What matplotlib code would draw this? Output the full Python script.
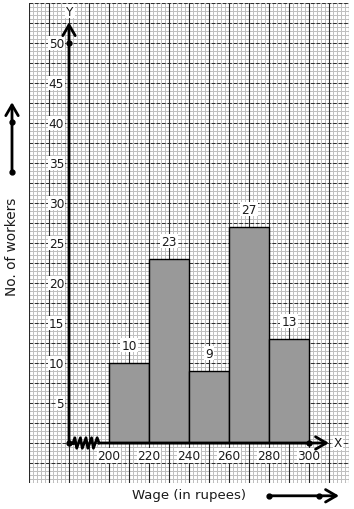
import numpy as np
import matplotlib
matplotlib.use("Agg")
import matplotlib.pyplot as plt

# ---- data ----
bin_edges = [200, 220, 240, 260, 280, 300]
workers = [10, 23, 9, 27, 13]
x_ticks = [200, 220, 240, 260, 280, 300]
y_ticks = [5, 10, 15, 20, 25, 30, 35, 40, 45, 50]
x_label = "Wage (in rupees)"
y_label = "No. of workers"

fig = plt.figure(figsize=(3.54, 5.10), dpi=100)
ax = fig.add_axes([29/354, 26/510, 320/354, 480/510])
ax.set_xlim(160, 320)
ax.set_ylim(-5, 55)
ax.axis("off")

# graph paper
for xv in np.arange(160, 320.1, 2):
    ax.axvline(xv, color="#c0c0c0", lw=0.72, zorder=0)
for yv in np.arange(-5, 55.01, 0.5):
    ax.axhline(yv, color="#c0c0c0", lw=0.72, zorder=0)
for xv in np.arange(160, 320.1, 10):
    ax.axvline(xv, color="#2a2a2a", lw=0.8, zorder=1)
for yv in np.arange(-5, 55.01, 2.5):
    ax.axhline(yv, color="#303030", lw=0.75, ls=(0, (3.5, 1.8)), zorder=1)

# bars
lefts = bin_edges[:-1]
widths = np.diff(bin_edges)
ax.bar(lefts, workers, width=widths, align="edge", color="#999999",
       edgecolor="black", lw=1.0, zorder=3)

box = dict(facecolor="white", edgecolor="none", pad=0.6)
centers = [l + w / 2 for l, w in zip(lefts, widths)]
for c, v in zip(centers, workers):
    ax.text(c, v + 2.25, str(v), ha="center", va="center", fontsize=8.7,
            color="#1a1a1a", bbox=box, zorder=4)

# axes lines
arrow = dict(arrowstyle="->,head_length=0.55,head_width=0.32", lw=2,
             color="black", mutation_scale=14, shrinkA=0, shrinkB=0)
ax.annotate("", xy=(180, 52.6), xytext=(180, 0), arrowprops=arrow, zorder=5)
ax.annotate("", xy=(310, 0), xytext=(195, 0), arrowprops=arrow, zorder=5)
ax.plot([180, 182], [0, 0], color="black", lw=2, zorder=5)
zx = np.linspace(182, 195, 15)
zy = np.array([0, 0.65, -0.65] * 5)[:15]
zy[0] = 0; zy[-1] = 0
ax.plot(zx, zy, color="black", lw=2, zorder=5)
ax.plot([180, 180, 300], [0, 50, 0], "o", color="black", ms=3.5, zorder=6)

# tick labels
for yv in y_ticks:
    ax.text(177.6, yv, str(yv), ha="right", va="center", fontsize=8.7,
            color="#1a1a1a", bbox=box, zorder=4)
for xv in x_ticks:
    ax.text(xv, -1.6, str(xv), ha="center", va="center", fontsize=8.7,
            color="#1a1a1a", bbox=box, zorder=4)
ax.text(314.5, 0, "X", ha="center", va="center", fontsize=8.7,
        color="#1a1a1a", bbox=box, zorder=4)
ax.text(180.5, 54.0, "Y", ha="center", va="center", fontsize=8.7,
        color="#1a1a1a", bbox=box, zorder=4)

# outer labels
fig.text(189/354, 1 - 496/510, x_label, ha="center", va="center",
         fontsize=9.5, color="#1a1a1a")
fig.text(12/354, 1 - 247/510, y_label, ha="center", va="center",
         fontsize=9.8, color="#1a1a1a", rotation=90)

# decorative direction arrows
ax.annotate("", xy=(151.5, 42.6), xytext=(151.5, 33.9), arrowprops=arrow,
            annotation_clip=False)
ax.plot([151.5, 151.5], [33.9, 40.1], "o", color="black", ms=3.5, clip_on=False)
ax.annotate("", xy=(315, -6.6), xytext=(280, -6.6), arrowprops=arrow,
            annotation_clip=False)
ax.plot([280, 305], [-6.6, -6.6], "o", color="black", ms=3.5, clip_on=False)

fig.savefig("out.png", dpi=100)
